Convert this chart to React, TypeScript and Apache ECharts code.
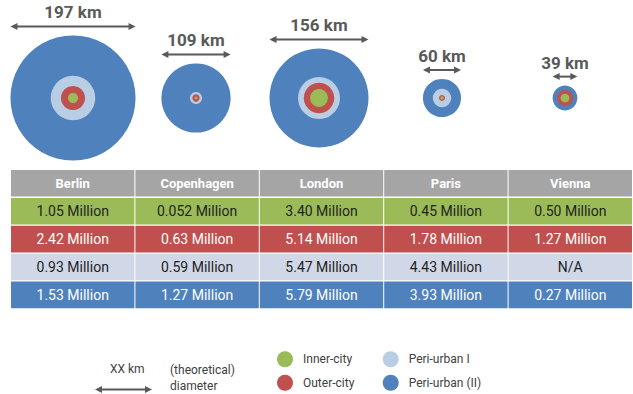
import React, { useEffect, useRef } from "react";
import * as echarts from "echarts";

// ---- data ----
const cities = ["Berlin", "Copenhagen", "London", "Paris", "Vienna"];
// theoretical diameter of each metropolitan area (km)
const diameterKm = [197, 109, 156, 60, 39];
// ring diameters (km)
const periUrbanIKm: (number | null)[] = [70, 19, 66, 29, null];
const outerCityKm = [38, 11.5, 48, 9.5, 25];
const innerCityKm = [16, 4.3, 28, 5.2, 13.7];
// population (million)
const innerCityPop = ["1.05", "0.052", "3.40", "0.45", "0.50"];
const outerCityPop = ["2.42", "0.63", "5.14", "1.78", "1.27"];
const periUrbanIPop: (string | null)[] = ["0.93", "0.59", "5.47", "4.43", null];
const periUrbanIIPop = ["1.53", "1.27", "5.79", "3.93", "0.27"];
const zoneNames = ["Inner-city", "Outer-city", "Peri-urban I", "Peri-urban (II)"];

// ---- styling ----
const SCALE = 0.635; // px per km
const C_BLUE = "#4f81bd";
const C_LIGHT = "#b9cde5";
const C_RED = "#c0504d";
const C_GREEN = "#9bbb59";
const ROW_FILL = ["#a5a5a5", "#9bbb59", "#c0504d", "#d0d8e8", "#4f81bd"];
const ROW_TEXT = ["#ffffff", "#1f1f1f", "#ffffff", "#1f1f1f", "#ffffff"];
const GREY = "#595959";
const FONT = "Roboto, 'Noto Sans', sans-serif";

function ringData(km: (number | null)[]) {
  return km
    .map((d, i) => (d == null ? null : [i, 0.5, d]))
    .filter((d) => d !== null);
}

function buildOption() {
  const popRows = [innerCityPop, outerCityPop, periUrbanIPop, periUrbanIIPop];
  const cellData: number[][] = [];
  const cellText: string[] = [];
  for (let r = 0; r < 5; r++) {
    for (let c = 0; c < cities.length; c++) {
      cellData.push([c, r]);
      if (r === 0) cellText.push(cities[c]);
      else {
        const v = popRows[r - 1][c];
        cellText.push(v == null ? "N/A" : v + " Million");
      }
    }
  }

  const ringSeries = (name: string, color: string, km: (number | null)[], z: number) => ({
    type: "scatter",
    name,
    xAxisIndex: 0,
    yAxisIndex: 0,
    data: ringData(km),
    symbol: "circle",
    symbolSize: (v: number[]) => v[2] * SCALE,
    itemStyle: { color, opacity: 1 },
    silent: true,
    z,
  });

  const legendItem = (name: string, left: number, top: number) => ({
    orient: "horizontal",
    icon: "circle",
    itemWidth: 26,
    itemHeight: 16,
    padding: 0,
    selectedMode: false,
    left,
    top,
    data: [name],
    textStyle: { color: "#404040", fontSize: 12, fontFamily: FONT },
  });

  const arrowHead = (x: number, y: number, dir: number) => ({
    type: "polygon",
    shape: { points: [[x, y], [x - dir * 7, y - 3.5], [x - dir * 7, y + 3.5]] },
    style: { fill: GREY },
  });

  return {
    animation: false,
    grid: [
      { left: 11.5, width: 615, top: 0, height: 196 },
      { left: 11, width: 625, top: 170, height: 139.5 },
    ],
    xAxis: [
      { type: "category", gridIndex: 0, data: cities, show: false },
      { type: "category", gridIndex: 1, data: cities, show: false },
    ],
    yAxis: [
      { type: "value", gridIndex: 0, min: 0, max: 1, show: false },
      { type: "category", gridIndex: 1, data: ["header", ...zoneNames], inverse: true, show: false },
    ],
    legend: [
      legendItem("Inner-city", 277, 351.3),
      legendItem("Outer-city", 277, 374.7),
      legendItem("Peri-urban I", 382.7, 351.3),
      legendItem("Peri-urban (II)", 382.7, 374.7),
    ],
    graphic: [
      {
        type: "text",
        left: 110,
        top: 362.5,
        style: { text: "XX km", fill: "#404040", font: `12px ${FONT}` },
      },
      {
        type: "text",
        left: 170,
        top: 362,
        style: { text: "(theoretical)\ndiameter", fill: "#404040", font: `12px ${FONT}`, lineHeight: 16 },
      },
      {
        type: "group",
        children: [
          { type: "line", shape: { x1: 98, y1: 389.5, x2: 149, y2: 389.5 }, style: { stroke: GREY, lineWidth: 2 } },
          arrowHead(95, 389.5, -1),
          arrowHead(152, 389.5, 1),
        ],
      },
    ],
    series: [
      ringSeries("Peri-urban (II)", C_BLUE, diameterKm, 1),
      ringSeries("Peri-urban I", C_LIGHT, periUrbanIKm, 2),
      ringSeries("Outer-city", C_RED, outerCityKm, 3),
      ringSeries("Inner-city", C_GREEN, innerCityKm, 4),
      {
        type: "custom",
        name: "diameter",
        xAxisIndex: 0,
        yAxisIndex: 0,
        silent: true,
        data: diameterKm.map((d, i) => [i, 0.5, d]),
        renderItem: (params: any, api: any) => {
          const km = api.value(2);
          const c = api.coord([api.value(0), api.value(1)]);
          const r = (km * SCALE) / 2;
          const y = c[1] - r - 9;
          const x0 = c[0] - r;
          const x1 = c[0] + r;
          return {
            type: "group",
            children: [
              { type: "line", shape: { x1: x0 + 3, y1: y, x2: x1 - 3, y2: y }, style: { stroke: GREY, lineWidth: 2 } },
              arrowHead(x0, y, -1),
              arrowHead(x1, y, 1),
              {
                type: "text",
                x: c[0],
                y: y - 14,
                style: {
                  text: km + " km",
                  fill: GREY,
                  font: `bold 17px ${FONT}`,
                  align: "center",
                  verticalAlign: "middle",
                },
              },
            ],
          };
        },
      },
      {
        type: "custom",
        name: "table",
        xAxisIndex: 1,
        yAxisIndex: 1,
        silent: true,
        data: cellData,
        renderItem: (params: any, api: any) => {
          const col = api.value(0);
          const row = api.value(1);
          const c = api.coord([col, row]);
          const s = api.size([1, 1]);
          return {
            type: "group",
            children: [
              {
                type: "rect",
                shape: { x: c[0] - s[0] / 2, y: c[1] - s[1] / 2, width: s[0] - 1, height: s[1] - 1.3 },
                style: { fill: ROW_FILL[row] },
              },
              {
                type: "text",
                x: c[0] - 0.5,
                y: c[1] - 0.6,
                style: {
                  text: cellText[params.dataIndex],
                  fill: ROW_TEXT[row],
                  font: row === 0 ? `bold 13px ${FONT}` : `14px ${FONT}`,
                  align: "center",
                  verticalAlign: "middle",
                },
              },
            ],
          };
        },
      },
    ],
  };
}

export default function App() {
  const ref = useRef<HTMLDivElement>(null);
  useEffect(() => {
    if (!ref.current) return;
    const chart = echarts.init(ref.current, null, { renderer: "svg" });
    chart.setOption(buildOption() as any);
    return () => chart.dispose();
  }, []);
  return (
    <div
      ref={ref}
      style={{ position: "absolute", left: 0, top: 0, width: 633, height: 394, background: "#ffffff" }}
    />
  );
}
